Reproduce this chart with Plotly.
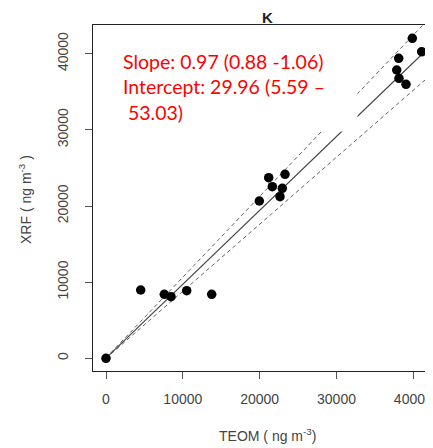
import numpy as np
import plotly.graph_objects as go

# ---- data ----
tedm = [0, 4516, 7588, 8460, 10504, 13758, 19953, 21177, 21645, 23298, 22947, 22647,
        39867, 41090, 38097, 37837, 38136, 39047]
xrf = [0, 8970, 8404, 8089, 8877, 8404, 20656, 23716, 22534, 24163, 22324, 21221,
       42022, 40263, 39396, 37859, 36770, 35982]

slope = 0.97
slope_lo, slope_hi = 0.88, 1.06
intercept = 29.96
intercept_lo, intercept_hi = 5.59, 53.03

x_ticks = [0, 10000, 20000, 30000, 40000]
y_ticks = [0, 10000, 20000, 30000, 40000]

W, H = 433, 448
OFF = 8  # page body margin offset of the rendered figure
# plot area in window pixels: left 93, right 437, top 25, bottom 371
ml = 93 - OFF
mt = 25 - OFF
mr = W - (437 - OFF)
mb = H - (371 - OFF)

fig = go.Figure()

xl = np.array([0, 46000.0])
# confidence lines
for s, b in [(slope_hi, intercept_hi), (slope_lo, intercept_lo)]:
    fig.add_trace(go.Scatter(x=xl, y=b + s * xl, mode="lines",
                             line=dict(color="#666666", width=1, dash="4px,3px"),
                             hoverinfo="skip", showlegend=False))
# fitted line
fig.add_trace(go.Scatter(x=xl, y=intercept + slope * xl, mode="lines",
                         line=dict(color="#444444", width=1.2),
                         hoverinfo="skip", showlegend=False))
# points
fig.add_trace(go.Scatter(x=tedm, y=xrf, mode="markers",
                         marker=dict(color="black", size=9.5),
                         showlegend=False))

axis_font = dict(family="Liberation Sans, Arial, sans-serif", size=14, color="#444444")

fig.update_xaxes(range=[-1692, 43080], tickvals=x_ticks,
                 ticktext=[str(v) for v in x_ticks], automargin=False,
                 showgrid=False, zeroline=False, showline=True, linecolor="#222222",
                 linewidth=1.3, mirror=True, ticks="outside", ticklen=7,
                 tickcolor="#555555", tickfont=axis_font, ticklabelstandoff=8)
fig.update_yaxes(range=[-1668, 43770], tickvals=y_ticks,
                 ticktext=[str(v) for v in y_ticks], automargin=False,
                 showgrid=False, zeroline=False, showline=True, linecolor="#222222",
                 linewidth=1.3, mirror=False, ticks="outside", ticklen=7,
                 tickcolor="#555555", tickfont=axis_font, tickangle=-90,
                 ticklabelstandoff=11)

pw, ph = W - ml - mr, H - mt - mb

def px(x):  # window pixel -> paper
    return (x - OFF - ml) / pw

def py(y):
    return (H - mb - (y - OFF)) / ph

annotations = [
    dict(text="<b>K</b>", x=px(267), y=py(17), xref="paper", yref="paper",
         xanchor="center", yanchor="middle",
         showarrow=False, font=dict(family="Liberation Sans, Arial", size=15, color="#222222")),
    dict(text="TEOM ( ng m<sup>-3</sup>)", x=px(267), y=py(435), xref="paper", yref="paper",
         xanchor="center", yanchor="middle",
         showarrow=False, font=axis_font),
    dict(text="XRF ( ng m<sup>-3</sup> )", x=px(25), y=py(200), xref="paper", yref="paper",
         xanchor="center", yanchor="middle",
         showarrow=False, textangle=-90, font=axis_font),
    dict(text="Slope: 0.97 (0.88 -1.06)<br>Intercept: 29.96 (5.59 \u2013<br>\u00a053.03)",
         x=px(120), y=py(47), xref="paper", yref="paper", xanchor="left", yanchor="top",
         align="left", valign="top", width=232, height=79, bgcolor="white", borderpad=2,
         showarrow=False, font=dict(family="Lato, Open Sans, sans-serif", size=19.5, color="#ff0000")),
]

fig.update_layout(width=W, height=H, margin=dict(l=ml, r=mr, t=mt, b=mb, autoexpand=False),
                  paper_bgcolor="white", plot_bgcolor="white",
                  annotations=annotations, showlegend=False)

fig.write_html("out.html")
